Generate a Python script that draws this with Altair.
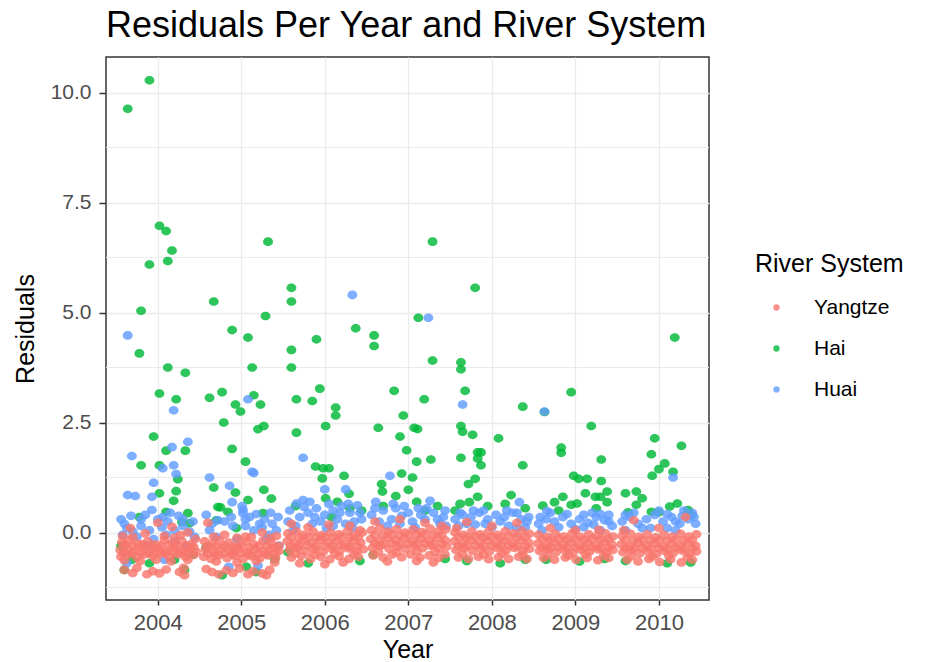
import altair as alt
import pandas as pd

YEARS = [2004, 2005, 2006, 2007, 2008, 2009, 2010]
RIVERS = ["Yangtze", "Hai", "Huai"]
COLORS = ["#F8766D", "#00BA38", "#619CFF"]
Y_TICKS = [0, 2.5, 5, 7.5, 10]
Y_MINOR = [-1.25, 1.25, 3.75, 6.25, 8.75]

# (jitter offset from the year, residual)
YANGTZE_2004 = [(-0.33, 0.10), (0.0, 0.22), (0.17, 0.13), (0.36, 0.0), (-0.15, -0.02), (0.27, -0.06), (-0.42, -0.08),
                (-0.43, -0.22), (-0.34, -0.18), (-0.24, -0.25), (-0.12, -0.2), (-0.03, -0.27), (0.08, -0.17), (0.18, -0.24), (0.29, -0.2), (0.4, -0.26), (0.45, -0.15),
                (-0.45, -0.4), (-0.37, -0.35), (-0.28, -0.42), (-0.19, -0.33), (-0.09, -0.4), (0.01, -0.36), (0.11, -0.43), (0.2, -0.35), (0.3, -0.41), (0.39, -0.37), (0.46, -0.44),
                (-0.44, -0.55), (-0.35, -0.5), (-0.25, -0.57), (-0.16, -0.5), (-0.06, -0.54), (0.04, -0.49), (0.14, -0.56), (0.24, -0.5), (0.33, -0.55), (0.43, -0.51),
                (-0.4, -0.63), (-0.21, -0.65), (-0.02, -0.62), (0.16, -0.66), (0.36, -0.62),
                (-0.4, -0.85), (-0.3, -0.92), (-0.25, -0.8), (-0.13, -0.95), (-0.06, -0.88), (0.02, -0.93), (0.1, -0.84), (0.26, -0.9), (0.31, -0.8), (0.32, -0.97),
                (-0.39, -0.28), (-0.29, -0.31), (-0.18, -0.27), (-0.08, -0.31), (0.03, -0.3), (0.13, -0.29), (0.23, -0.3), (0.34, -0.31), (0.43, -0.33),
                (-0.41, -0.46), (-0.31, -0.47), (-0.2, -0.45), (-0.1, -0.47), (0.0, -0.45), (0.09, -0.47), (0.19, -0.45), (0.29, -0.47), (0.38, -0.46),
                (-0.3, -0.1), (0.08, -0.08), (0.2, -0.12)]
YANGTZE_2005 = [(-0.4, 0.22), (-0.2, -0.05), (0.05, -0.1), (0.25, 0.0), (0.42, -0.08),
                (-0.44, -0.2), (-0.35, -0.26), (-0.26, -0.18), (-0.15, -0.23), (-0.05, -0.3), (0.05, -0.2), (0.15, -0.27), (0.26, -0.19), (0.36, -0.24), (0.45, -0.3),
                (-0.43, -0.38), (-0.33, -0.44), (-0.23, -0.36), (-0.13, -0.42), (-0.03, -0.37), (0.07, -0.45), (0.17, -0.38), (0.27, -0.43), (0.37, -0.36), (0.45, -0.42),
                (-0.45, -0.55), (-0.36, -0.6), (-0.27, -0.52), (-0.17, -0.58), (-0.08, -0.53), (0.02, -0.6), (0.12, -0.54), (0.22, -0.59), (0.32, -0.52), (0.41, -0.57),
                (-0.3, -0.66), (-0.05, -0.68), (0.18, -0.65), (0.4, -0.68),
                (-0.42, -0.83), (-0.35, -0.9), (-0.27, -0.95), (-0.18, -0.86), (-0.1, -0.92), (-0.02, -0.82), (0.08, -0.95), (0.14, -0.88), (0.25, -0.93), (0.34, -0.85), (0.3, -0.97),
                (-0.4, -0.31), (-0.3, -0.32), (-0.2, -0.3), (-0.1, -0.33), (0.0, -0.29), (0.1, -0.34), (0.21, -0.31), (0.31, -0.32), (0.41, -0.35),
                (-0.4, -0.48), (-0.3, -0.5), (-0.2, -0.47), (-0.1, -0.49), (0.0, -0.46), (0.1, -0.5), (0.2, -0.48), (0.3, -0.49), (0.4, -0.47),
                (-0.33, -0.1), (-0.05, -0.12), (0.12, -0.1), (0.35, -0.12)]
YANGTZE_2006 = [(-0.4, 0.2), (-0.2, 0.12), (0.05, 0.18), (0.3, 0.15), (0.42, 0.05),
                (-0.44, -0.02), (-0.34, 0.03), (-0.25, -0.05), (-0.14, 0.02), (-0.04, -0.06), (0.07, 0.0), (0.17, -0.04), (0.27, 0.03), (0.36, -0.05), (0.45, 0.0),
                (-0.45, -0.2), (-0.36, -0.25), (-0.26, -0.18), (-0.16, -0.24), (-0.06, -0.17), (0.04, -0.23), (0.14, -0.19), (0.24, -0.26), (0.34, -0.18), (0.43, -0.23),
                (-0.42, -0.4), (-0.32, -0.36), (-0.22, -0.43), (-0.12, -0.38), (-0.02, -0.44), (0.08, -0.37), (0.18, -0.42), (0.28, -0.36), (0.38, -0.43), (0.46, -0.38),
                (-0.4, -0.57), (-0.28, -0.53), (-0.17, -0.6), (-0.05, -0.55), (0.06, -0.61), (0.17, -0.54), (0.29, -0.6), (0.4, -0.55),
                (-0.3, -0.7), (0.0, -0.72), (0.22, -0.68),
                (-0.4, -0.1), (-0.3, -0.12), (-0.2, -0.1), (-0.1, -0.12), (0.0, -0.1), (0.1, -0.12), (0.2, -0.1), (0.3, -0.12), (0.4, -0.1),
                (-0.41, -0.3), (-0.31, -0.31), (-0.21, -0.29), (-0.11, -0.32), (-0.01, -0.3), (0.09, -0.31), (0.19, -0.29), (0.29, -0.32), (0.39, -0.3),
                (-0.35, -0.48), (-0.12, -0.5), (0.12, -0.48), (0.35, -0.49)]
YANGTZE_2007 = [(-0.4, 0.25), (-0.1, 0.3), (0.2, 0.22), (0.4, 0.15),
                (-0.44, 0.05), (-0.34, 0.1), (-0.24, 0.02), (-0.14, 0.08), (-0.04, 0.0), (0.06, 0.07), (0.16, 0.01), (0.26, 0.09), (0.36, 0.03), (0.45, 0.08),
                (-0.45, -0.15), (-0.35, -0.2), (-0.25, -0.12), (-0.15, -0.18), (-0.05, -0.13), (0.05, -0.2), (0.15, -0.14), (0.25, -0.19), (0.35, -0.12), (0.44, -0.18),
                (-0.43, -0.35), (-0.33, -0.3), (-0.23, -0.37), (-0.13, -0.32), (-0.03, -0.38), (0.07, -0.31), (0.17, -0.36), (0.27, -0.3), (0.37, -0.37), (0.46, -0.32),
                (-0.42, -0.52), (-0.3, -0.57), (-0.19, -0.5), (-0.08, -0.56), (0.03, -0.5), (0.14, -0.57), (0.25, -0.52), (0.36, -0.58), (0.44, -0.5),
                (-0.25, -0.66), (0.1, -0.65), (0.3, -0.68),
                (-0.4, -0.05), (-0.3, -0.06), (-0.2, -0.04), (-0.1, -0.07), (0.0, -0.05), (0.1, -0.06), (0.2, -0.04), (0.3, -0.07), (0.4, -0.05),
                (-0.4, -0.25), (-0.3, -0.26), (-0.2, -0.24), (-0.1, -0.27), (0.0, -0.25), (0.1, -0.26), (0.2, -0.24), (0.3, -0.27), (0.4, -0.25),
                (-0.36, -0.44), (-0.14, -0.45), (0.1, -0.43), (0.32, -0.44)]
YANGTZE_2008 = [(-0.3, 0.24), (0.3, 0.22), (0.0, 0.15), (-0.42, 0.1),
                (-0.44, 0.0), (-0.34, -0.05), (-0.24, 0.03), (-0.14, -0.04), (-0.04, 0.02), (0.06, -0.05), (0.16, 0.03), (0.26, -0.02), (0.36, 0.04), (0.45, -0.03),
                (-0.45, -0.2), (-0.35, -0.25), (-0.25, -0.17), (-0.15, -0.23), (-0.05, -0.18), (0.05, -0.25), (0.15, -0.19), (0.25, -0.24), (0.35, -0.17), (0.44, -0.23),
                (-0.43, -0.4), (-0.33, -0.35), (-0.23, -0.42), (-0.13, -0.37), (-0.03, -0.43), (0.07, -0.36), (0.17, -0.41), (0.27, -0.35), (0.37, -0.42), (0.45, -0.37),
                (-0.4, -0.57), (-0.28, -0.6), (-0.16, -0.55), (-0.04, -0.61), (0.08, -0.56), (0.2, -0.6), (0.32, -0.55), (0.42, -0.6),
                (-0.4, -0.1), (-0.3, -0.12), (-0.2, -0.09), (-0.1, -0.11), (0.0, -0.1), (0.1, -0.12), (0.2, -0.09), (0.3, -0.11), (0.4, -0.1),
                (-0.4, -0.3), (-0.3, -0.31), (-0.2, -0.29), (-0.1, -0.31), (0.0, -0.3), (0.1, -0.31), (0.2, -0.29), (0.3, -0.31), (0.4, -0.3),
                (-0.35, -0.49), (-0.1, -0.5), (0.13, -0.48), (0.37, -0.5)]
YANGTZE_2009 = [(0.28, 0.06), (-0.3, 0.1), (0.0, 0.05),
                (-0.44, -0.05), (-0.34, -0.1), (-0.24, -0.03), (-0.14, -0.09), (-0.04, -0.02), (0.06, -0.1), (0.16, -0.04), (0.26, -0.08), (0.36, -0.02), (0.45, -0.09),
                (-0.45, -0.25), (-0.35, -0.3), (-0.25, -0.22), (-0.15, -0.28), (-0.05, -0.23), (0.05, -0.3), (0.15, -0.24), (0.25, -0.29), (0.35, -0.22), (0.44, -0.28),
                (-0.43, -0.42), (-0.33, -0.38), (-0.23, -0.45), (-0.13, -0.4), (-0.03, -0.46), (0.07, -0.39), (0.17, -0.44), (0.27, -0.38), (0.37, -0.45), (0.45, -0.4),
                (-0.38, -0.58), (-0.25, -0.62), (-0.12, -0.57), (0.01, -0.62), (0.14, -0.58), (0.27, -0.63), (0.4, -0.58),
                (-0.4, -0.15), (-0.3, -0.17), (-0.2, -0.14), (-0.1, -0.16), (0.0, -0.15), (0.1, -0.17), (0.2, -0.14), (0.3, -0.16), (0.4, -0.15),
                (-0.4, -0.34), (-0.3, -0.35), (-0.2, -0.33), (-0.1, -0.35), (0.0, -0.34), (0.1, -0.35), (0.2, -0.33), (0.3, -0.35), (0.4, -0.34),
                (-0.33, -0.51), (-0.08, -0.52), (0.12, -0.5), (0.34, -0.52)]
YANGTZE_2010 = [(-0.3, 0.28), (0.32, 0.35), (0.0, 0.1), (-0.42, 0.05),
                (-0.44, -0.08), (-0.34, -0.03), (-0.24, -0.1), (-0.14, -0.04), (-0.04, -0.11), (0.06, -0.05), (0.16, -0.1), (0.26, -0.03), (0.36, -0.09), (0.45, -0.04),
                (-0.45, -0.27), (-0.35, -0.32), (-0.25, -0.24), (-0.15, -0.3), (-0.05, -0.25), (0.05, -0.32), (0.15, -0.26), (0.25, -0.31), (0.35, -0.24), (0.44, -0.3),
                (-0.43, -0.45), (-0.33, -0.41), (-0.23, -0.48), (-0.13, -0.43), (-0.03, -0.49), (0.07, -0.42), (0.17, -0.47), (0.27, -0.41), (0.37, -0.48), (0.45, -0.43),
                (-0.38, -0.62), (-0.25, -0.66), (-0.12, -0.6), (0.01, -0.67), (0.14, -0.61), (0.27, -0.68), (0.4, -0.62),
                (-0.4, -0.17), (-0.3, -0.19), (-0.2, -0.16), (-0.1, -0.18), (0.0, -0.17), (0.1, -0.19), (0.2, -0.16), (0.3, -0.18), (0.4, -0.17),
                (-0.4, -0.36), (-0.3, -0.37), (-0.2, -0.35), (-0.1, -0.37), (0.0, -0.36), (0.1, -0.37), (0.2, -0.35), (0.3, -0.37), (0.4, -0.36),
                (-0.33, -0.54), (-0.08, -0.55), (0.12, -0.53), (0.34, -0.55)]

HAI_2004 = [(-0.1, 10.28), (-0.36, 9.63), (0.02, 6.97), (0.1, 6.85), (0.17, 6.41), (0.12, 6.17), (-0.1, 6.09), (-0.2, 5.04), (-0.22, 4.07),
            (0.12, 3.75), (0.33, 3.63), (0.02, 3.16), (0.22, 3.03), (-0.05, 2.18), (0.1, 1.86), (0.33, 1.86), (-0.2, 1.53), (0.02, 1.53),
            (0.24, 1.21), (0.02, 0.89), (0.22, 0.94), (0.19, 0.72),
            (-0.22, 0.35), (0.36, 0.44), (0.38, 0.21), (0.29, 0.24), (0.1, 0.47), (-0.4, -0.85), (0.32, -0.85), (-0.31, -0.62), (0.2, -0.62),
            (-0.1, -0.7), (0.42, -0.5), (-0.44, -0.3)]
HAI_2005 = [(0.32, 6.61), (-0.33, 5.25), (0.29, 4.92), (-0.11, 4.60), (0.08, 4.43), (0.13, 3.75), (-0.38, 3.06), (-0.23, 3.19), (0.15, 3.12),
            (-0.07, 2.91), (-0.01, 2.75), (0.23, 2.91), (-0.21, 2.50), (0.27, 2.42), (0.2, 2.35), (-0.11, 1.90), (0.05, 1.61), (-0.33, 1.02),
            (-0.07, 0.91), (0.27, 0.97), (0.36, 0.77), (0.08, 0.74), (-0.25, 0.57),
            (-0.28, 0.58), (-0.16, 0.47), (-0.3, 0.28), (0.26, 0.44), (-0.06, 0.1), (-0.23, -0.97), (0.06, -0.78), (0.18, -0.9), (-0.42, -0.33), (0.4, -0.6)]
HAI_2006 = [(-0.4, 5.56), (-0.4, 5.25), (0.37, 4.64), (-0.1, 4.39), (-0.4, 4.15), (-0.4, 3.75), (-0.34, 3.03), (-0.15, 2.99), (-0.06, 3.27),
            (0.13, 2.84), (0.13, 2.66), (0.01, 2.42), (-0.34, 2.27), (-0.11, 1.50), (-0.02, 1.46), (0.05, 1.46), (-0.03, 1.23), (0.23, 1.29),
            (0.29, 0.88), (0.01, 0.78),
            (-0.35, 0.6), (0.15, 0.7), (0.3, 0.55), (-0.44, -0.45), (0.42, -0.65), (-0.2, -0.7), (0.08, 0.35), (0.44, 0.5)]
HAI_2007 = [(-0.41, 4.48), (-0.41, 4.24), (0.29, 6.61), (0.12, 4.88), (0.29, 3.91), (-0.17, 3.22), (-0.06, 2.66), (0.19, 3.03),
            (-0.36, 2.38), (-0.1, 2.18), (0.07, 2.38), (0.11, 2.35), (-0.02, 1.87), (0.27, 1.66), (0.1, 1.61), (-0.32, 1.10), (-0.31, 0.93),
            (-0.08, 1.34), (0.05, 1.25), (-0.15, 0.83), (0.0, 0.97),
            (-0.3, 0.6), (0.1, 0.7), (0.35, 0.6), (-0.42, -0.5), (0.44, -0.6), (0.2, 0.5)]
HAI_2008 = [(-0.2, 5.56), (-0.37, 3.87), (-0.37, 3.71), (-0.32, 3.22), (0.37, 2.86), (-0.37, 2.42), (-0.35, 2.29), (-0.23, 2.22), (0.08, 2.14),
            (-0.17, 1.82), (-0.13, 1.82), (-0.37, 1.70), (-0.17, 1.68), (-0.13, 1.53), (0.37, 1.53), (-0.2, 1.22), (-0.28, 1.10),
            (-0.38, 0.65), (-0.27, 0.69), (-0.17, 0.81), (0.23, 0.85), (0.16, 0.65),
            (-0.3, -0.65), (0.1, -0.7), (0.4, -0.62), (-0.44, 0.5), (0.4, 0.55), (-0.05, 0.6)]
HAI_2009 = [(-0.05, 3.19), (-0.37, 2.74), (0.19, 2.42), (-0.17, 1.93), (-0.17, 1.81), (0.31, 1.66), (-0.02, 1.29), (0.04, 1.22), (0.14, 1.22),
            (0.31, 1.17), (-0.39, 0.61), (-0.25, 0.69), (-0.15, 0.81), (-0.05, 0.63), (0.02, 0.66), (0.12, 0.89), (0.24, 0.81), (0.3, 0.81),
            (0.38, 0.93), (0.38, 0.69),
            (-0.35, -0.62), (0.05, -0.66), (0.35, -0.6), (-0.2, 0.5), (0.25, 0.55)]
HAI_2010 = [(0.19, 4.43), (-0.05, 2.14), (0.27, 1.97), (-0.09, 1.78), (0.07, 1.57), (0.0, 1.44), (-0.08, 1.29), (0.17, 1.38),
            (-0.4, 0.89), (-0.27, 0.93), (-0.2, 0.78), (-0.27, 0.63), (-0.37, 0.46), (-0.09, 0.47), (0.0, 0.46), (0.13, 0.59), (0.22, 0.66),
            (0.35, 0.51), (0.39, 0.4),
            (-0.4, -0.65), (0.1, -0.7), (0.38, -0.68)]

HUAI_2004 = [(-0.36, 4.48), (0.19, 2.78), (0.36, 2.06), (0.17, 1.94), (-0.31, 1.74), (0.06, 1.46), (0.19, 1.53), (0.22, 1.33), (-0.05, 1.13),
             (-0.36, 0.85), (-0.27, 0.83), (-0.07, 0.81), (-0.07, 0.51), (0.06, 0.35),
             (-0.44, 0.3), (-0.4, 0.2), (-0.37, 0.1), (-0.42, -0.05), (-0.3, 0.02), (-0.2, 0.15), (-0.1, 0.05), (0.0, 0.3), (0.05, 0.12),
             (0.12, 0.25), (0.2, 0.05), (0.3, 0.15), (0.38, 0.02), (0.44, -0.1), (-0.25, -0.1), (0.1, -0.05), (-0.37, -0.7), (0.08, -0.62),
             (-0.15, 0.4), (0.25, 0.38), (-0.05, -0.15), (0.35, -0.3), (-0.4, -0.45), (0.42, 0.25),
             (-0.32, 0.38), (-0.2, 0.3), (0.15, 0.45), (0.3, 0.3), (-0.12, -0.3), (0.2, -0.2)]
HUAI_2005 = [(-0.38, 1.25), (0.08, 3.03), (0.13, 1.38), (0.15, 1.35), (-0.14, 1.06), (-0.11, 0.69), (0.01, 0.6), (0.02, 0.51),
             (0.02, 0.44), (0.1, 0.35), (0.18, 0.42), (0.28, 0.3), (0.37, 0.2), (0.05, 0.15), (0.15, 0.05), (0.25, 0.12), (0.33, -0.05),
             (0.42, 0.05), (-0.28, 0.28), (-0.2, 0.25), (-0.38, 0.05), (-0.1, 0.15), (-0.3, -0.1), (0.45, -0.3), (-0.05, -0.15),
             (0.2, -0.75), (-0.15, -0.78), (0.44, 0.35), (-0.42, 0.4),
             (-0.35, 0.2), (0.05, 0.3), (0.22, 0.2), (0.35, 0.45), (-0.12, 0.35), (0.3, -0.15)]
HUAI_2006 = [(-0.26, 1.70), (0.33, 5.40), (0.0, 0.98), (0.25, 0.98), (-0.26, 0.74), (-0.34, 0.66), (-0.18, 0.7), (0.39, 0.62),
             (-0.42, 0.5), (-0.3, 0.35), (-0.2, 0.45), (-0.1, 0.55), (0.0, 0.4), (0.1, 0.5), (0.2, 0.6), (0.3, 0.45), (0.44, 0.3),
             (-0.44, 0.25), (-0.05, 0.25), (0.15, 0.3), (0.25, 0.2), (0.35, 0.25), (-0.35, 0.15), (0.05, 0.65), (0.1, 0.15), (-0.15, 0.2),
             (-0.38, 0.05), (-0.25, 0.58), (-0.12, 0.35), (0.02, 0.1), (0.18, 0.45), (0.28, 0.65), (0.42, 0.45), (0.33, 0.1)]
HUAI_2007 = [(0.24, 4.88), (-0.22, 1.29), (-0.39, 0.7), (0.26, 0.72),
             (-0.44, 0.4), (-0.3, 0.5), (-0.15, 0.55), (0.0, 0.45), (0.12, 0.55), (0.3, 0.45), (0.42, 0.35), (-0.35, 0.25), (-0.2, 0.3),
             (0.05, 0.25), (0.2, 0.3), (0.38, 0.2), (-0.05, 0.6), (0.45, 0.15), (-0.1, 0.2), (0.15, 0.4),
             (-0.4, 0.55), (-0.25, 0.15), (-0.08, 0.38), (0.08, 0.12), (0.22, 0.55), (0.35, 0.3), (0.44, 0.5), (-0.18, 0.65)]
HUAI_2008 = [(-0.35, 2.91), (0.33, 0.69),
             (-0.44, 0.3), (-0.35, 0.4), (-0.25, 0.35), (-0.15, 0.45), (-0.05, 0.3), (0.05, 0.4), (0.15, 0.35), (0.25, 0.45), (0.35, 0.3),
             (0.44, 0.35), (-0.4, 0.15), (-0.2, 0.18), (0.0, 0.12), (0.2, 0.15), (0.4, 0.12), (-0.1, 0.5), (0.3, 0.1),
             (-0.38, 0.45), (-0.3, 0.2), (-0.08, 0.2), (0.1, 0.25), (0.3, 0.45), (0.42, 0.25), (0.18, 0.5), (-0.22, 0.5)]
HUAI_2009 = [(-0.37, 2.75), (-0.34, 0.49),
             (-0.44, 0.2), (-0.35, 0.3), (-0.25, 0.25), (-0.15, 0.35), (-0.05, 0.2), (0.05, 0.3), (0.15, 0.22), (0.25, 0.35), (0.35, 0.28),
             (0.44, 0.15), (-0.4, 0.05), (-0.1, 0.42), (0.2, 0.45), (0.4, 0.4), (0.0, 0.08), (0.3, 0.05),
             (-0.3, 0.45), (-0.2, 0.12), (0.1, 0.4), (0.1, 0.12), (0.3, 0.42), (0.4, 0.25), (-0.42, 0.35), (0.22, 0.18)]
HUAI_2010 = [(0.17, 1.25),
             (-0.44, 0.25), (-0.35, 0.35), (-0.25, 0.2), (-0.15, 0.3), (-0.05, 0.4), (0.05, 0.25), (0.15, 0.35), (0.25, 0.2), (0.35, 0.3),
             (0.44, 0.2), (-0.4, 0.05), (-0.1, 0.1), (0.2, 0.05), (0.4, 0.45), (0.0, 0.5), (0.3, 0.5),
             (-0.3, 0.45), (-0.2, 0.1), (0.1, 0.42), (0.1, 0.1), (0.28, 0.38), (0.42, 0.35), (-0.4, 0.4), (0.2, 0.25)]

SERIES = {
    "Hai": [HAI_2004, HAI_2005, HAI_2006, HAI_2007, HAI_2008, HAI_2009, HAI_2010],
    "Huai": [HUAI_2004, HUAI_2005, HUAI_2006, HUAI_2007, HUAI_2008, HUAI_2009, HUAI_2010],
    "Yangtze": [YANGTZE_2004, YANGTZE_2005, YANGTZE_2006, YANGTZE_2007, YANGTZE_2008, YANGTZE_2009, YANGTZE_2010],
}

rows = []
for river in ["Hai", "Huai", "Yangtze"]:  # drawing order
    for year, pts in zip(YEARS, SERIES[river]):
        for dx, v in pts:
            rows.append({"Year": year + dx, "Residuals": v, "River": river})
df = pd.DataFrame(rows)
minor_df = pd.DataFrame({"Residuals": Y_MINOR})

FONT = "Liberation Sans"
X_DOMAIN = [2003.38, 2010.6]
Y_DOMAIN = [-1.534, 10.807]
ELLIPSE = "M-1.15,0A1.15,1,0,1,1,1.15,0A1.15,1,0,1,1,-1.15,0Z"

y_enc = alt.Y("Residuals:Q", scale=alt.Scale(domain=Y_DOMAIN, nice=False, zero=False),
              axis=alt.Axis(values=Y_TICKS, format=".1f", title="Residuals", labelFontSize=21, tickSize=7,
                            labelPadding=8, titlePadding=12))

minor = alt.Chart(minor_df).mark_rule(color="#EBEBEB", strokeWidth=1.1).encode(y=y_enc)

points = alt.Chart(df).mark_point(filled=True, shape=ELLIPSE, size=74, opacity=0.82).encode(
    x=alt.X("Year:Q", scale=alt.Scale(domain=X_DOMAIN, nice=False, zero=False),
            axis=alt.Axis(values=YEARS, format="d", title="Year", labelFontSize=22, tickSize=5,
                          labelPadding=7, titlePadding=4)),
    y=y_enc,
    color=alt.Color("River:N", scale=alt.Scale(domain=RIVERS, range=COLORS),
                    legend=alt.Legend(title="River System", orient="none", legendX=649, legendY=195,
                                      titleFontSize=25, labelFontSize=21, symbolType="circle", symbolSize=40,
                                      symbolOpacity=0.8, symbolOffset=11, labelOffset=27, rowPadding=19,
                                      titlePadding=20, padding=0)),
)

chart = alt.layer(minor, points).properties(
    width=603, height=543,
    autosize=alt.AutoSizeParams(type="none"),
    padding={"left": 106, "top": 57, "right": 222, "bottom": 62},
    title=alt.TitleParams("Residuals Per Year and River System", anchor="start", frame="group", fontSize=36,
                          font=FONT, fontWeight="normal", color="black", offset=-16, baseline="alphabetic"),
).configure(background="white").configure_view(
    stroke="#333333", strokeWidth=1.5, fill="white"
).configure_axis(
    labelFont=FONT, titleFont=FONT, labelColor="#4D4D4D", titleColor="black", titleFontSize=25,
    titleFontWeight="normal", tickColor="#333333", tickWidth=1.5, domain=False,
    grid=True, gridColor="#EBEBEB", gridWidth=1.3,
).configure_legend(
    titleFont=FONT, labelFont=FONT, titleColor="black", labelColor="black", titleFontWeight="normal"
)

chart.save("out.html", embed_options={"renderer": "svg", "actions": False})
